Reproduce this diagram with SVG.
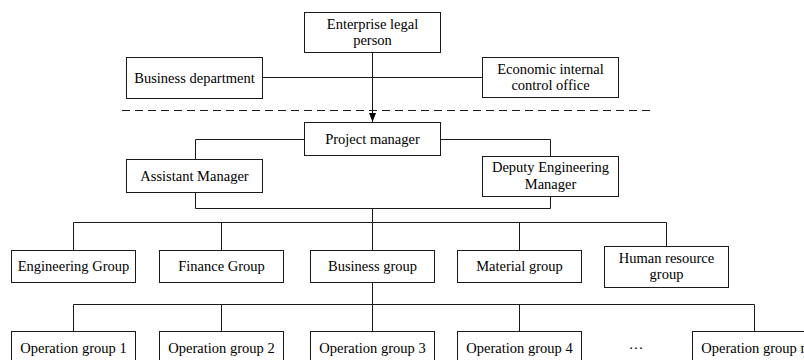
<svg xmlns="http://www.w3.org/2000/svg" width="804" height="360" viewBox="0 0 804 360">
  <style>
    .box { fill: #ffffff; stroke: #1a1a1a; stroke-width: 1; }
    .lbl { font-family: "Liberation Serif", "Times New Roman", serif; font-size: 14.5px; fill: #000000; text-anchor: middle; }
    .wire { fill: none; stroke: #1a1a1a; stroke-width: 1; }
    .dash { fill: none; stroke: #1a1a1a; stroke-width: 1; stroke-dasharray: 8 5; }
  </style>
  <defs>
    <marker id="arrowhead" markerUnits="userSpaceOnUse" markerWidth="9" markerHeight="7" refX="9" refY="3.5" orient="auto">
      <path d="M0 0 L9 3.5 L0 7 z" fill="#000000"/>
    </marker>
  </defs>
  <rect width="804" height="360" fill="#ffffff"/>

  <!-- connectors -->
  <g id="connectors">
    <path class="wire" d="M372.5 52.5 V122" marker-end="url(#arrowhead)"/>
    <path class="wire" d="M262.5 77.5 H482.5"/>
    <path class="dash" d="M122 110.5 H651"/>
    <path class="wire" d="M304.5 139.5 H195.5 V159.5"/>
    <path class="wire" d="M440.5 139.5 H550.5 V156.5"/>
    <path class="wire" d="M195.5 192.5 V208.5 H550.5 V196.5"/>
    <path class="wire" d="M372.5 208.5 V222.5"/>
    <path class="wire" d="M73.5 222.5 H666.5"/>
    <path class="wire" d="M73.5 222.5 V250.5 M221.5 222.5 V250.5 M372.5 222.5 V250.5 M519.5 222.5 V250.5 M666.5 222.5 V246.5"/>
    <path class="wire" d="M372.5 282.5 V304.5"/>
    <path class="wire" d="M73.5 304.5 H754.5"/>
    <path class="wire" d="M73.5 304.5 V331.5 M221.5 304.5 V331.5 M372.5 304.5 V331.5 M519.5 304.5 V331.5 M754.5 304.5 V331.5"/>
  </g>

  <!-- company level -->
  <g id="enterprise-legal-person">
    <rect class="box" x="304.5" y="12.5" width="136" height="40"/>
    <text class="lbl" x="372.5" y="28.5">Enterprise legal</text>
    <text class="lbl" x="372.5" y="44.5">person</text>
  </g>
  <g id="business-department">
    <rect class="box" x="126.5" y="57.5" width="136" height="41"/>
    <text class="lbl" x="194.5" y="82.5">Business department</text>
  </g>
  <g id="economic-internal-control-office">
    <rect class="box" x="482.5" y="57.5" width="136" height="40"/>
    <text class="lbl" x="550.5" y="73.5">Economic internal</text>
    <text class="lbl" x="550.5" y="90">control office</text>
  </g>

  <!-- project level -->
  <g id="project-manager">
    <rect class="box" x="304.5" y="122.5" width="136" height="33"/>
    <text class="lbl" x="372.5" y="143.5">Project manager</text>
  </g>
  <g id="assistant-manager">
    <rect class="box" x="126.5" y="159.5" width="136" height="33"/>
    <text class="lbl" x="194.5" y="180.5">Assistant Manager</text>
  </g>
  <g id="deputy-engineering-manager">
    <rect class="box" x="482.5" y="156.5" width="136" height="40"/>
    <text class="lbl" x="550.5" y="172">Deputy Engineering</text>
    <text class="lbl" x="550.5" y="188.5">Manager</text>
  </g>

  <!-- functional groups -->
  <g id="engineering-group">
    <rect class="box" x="11.5" y="250.5" width="124" height="32"/>
    <text class="lbl" x="73.5" y="271">Engineering Group</text>
  </g>
  <g id="finance-group">
    <rect class="box" x="159.5" y="250.5" width="124" height="32"/>
    <text class="lbl" x="221.5" y="271">Finance Group</text>
  </g>
  <g id="business-group">
    <rect class="box" x="310.5" y="250.5" width="124" height="32"/>
    <text class="lbl" x="372.5" y="271">Business group</text>
  </g>
  <g id="material-group">
    <rect class="box" x="457.5" y="250.5" width="124" height="32"/>
    <text class="lbl" x="519.5" y="271">Material group</text>
  </g>
  <g id="human-resource-group">
    <rect class="box" x="604.5" y="246.5" width="124" height="41"/>
    <text class="lbl" x="666.5" y="262.5">Human resource</text>
    <text class="lbl" x="666.5" y="279">group</text>
  </g>

  <!-- operation groups -->
  <g id="operation-group-1">
    <rect class="box" x="11.5" y="331.5" width="124" height="33"/>
    <text class="lbl" x="73.5" y="352.5">Operation group 1</text>
  </g>
  <g id="operation-group-2">
    <rect class="box" x="159.5" y="331.5" width="124" height="33"/>
    <text class="lbl" x="221.5" y="352.5">Operation group 2</text>
  </g>
  <g id="operation-group-3">
    <rect class="box" x="310.5" y="331.5" width="124" height="33"/>
    <text class="lbl" x="372.5" y="352.5">Operation group 3</text>
  </g>
  <g id="operation-group-4">
    <rect class="box" x="457.5" y="331.5" width="124" height="33"/>
    <text class="lbl" x="519.5" y="352.5">Operation group 4</text>
  </g>
  <g id="ellipsis">
    <text class="lbl" x="636" y="352.5">···</text>
  </g>
  <g id="operation-group-n">
    <rect class="box" x="692.5" y="331.5" width="124" height="33"/>
    <text class="lbl" x="754.5" y="352.5">Operation group n</text>
  </g>
</svg>
